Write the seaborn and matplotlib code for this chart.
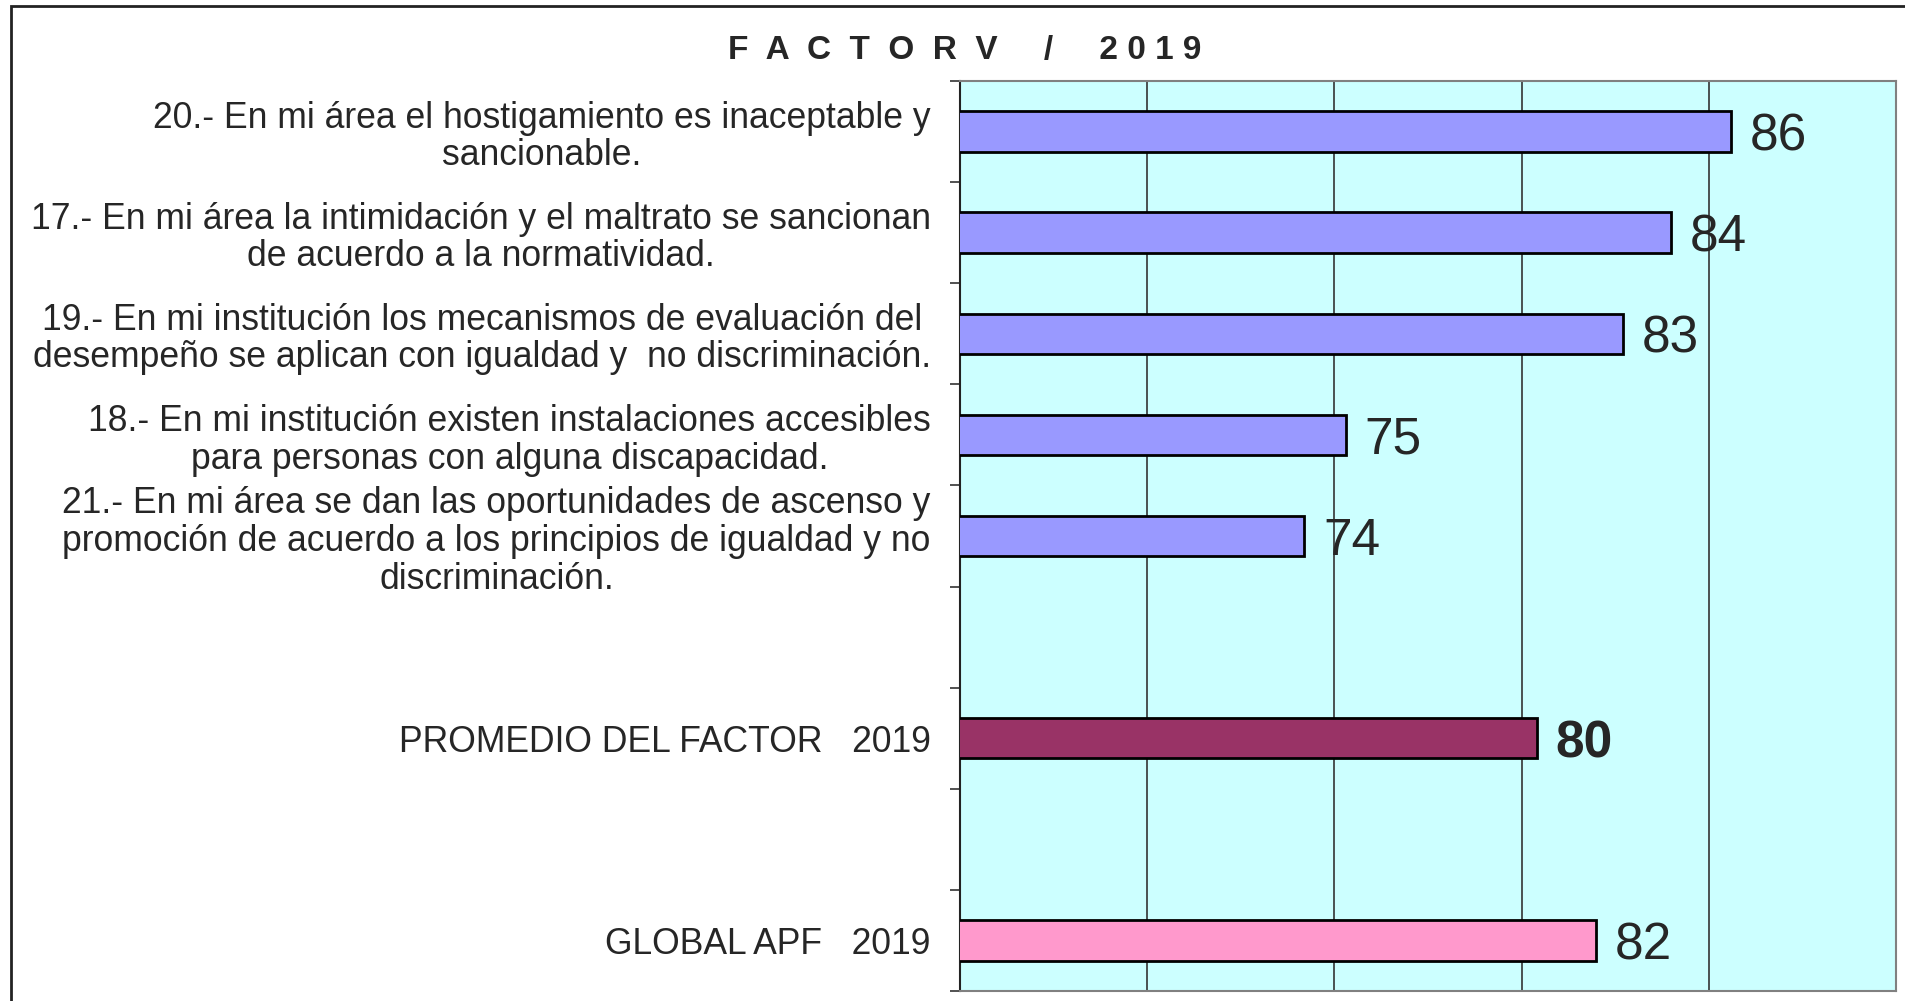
import matplotlib
matplotlib.use("Agg")
import matplotlib.pyplot as plt
from matplotlib.patches import Rectangle
import numpy as np
import pandas as pd
import seaborn as sns

# Data (axis runs 65-90, labels are the rounded values)
questions = [
    "20.- En mi área el hostigamiento es inaceptable y\nsancionable.",
    "17.- En mi área la intimidación y el maltrato se sancionan\nde acuerdo a la normatividad.",
    "19.- En mi institución los mecanismos de evaluación del\ndesempeño se aplican con igualdad y  no discriminación.",
    "18.- En mi institución existen instalaciones accesibles\npara personas con alguna discapacidad.",
    "21.- En mi área se dan las oportunidades de ascenso y\npromoción de acuerdo a los principios de igualdad y no\ndiscriminación.",
]
question_scores = [85.6, 84.0, 82.7, 75.3, 74.2]
promedio_label = "PROMEDIO DEL FACTOR   2019"
promedio_score = 80.4
global_label = "GLOBAL APF   2019"
global_score = 82.0

# slot order, with two blank rows like the original
order = questions + ["gap1", promedio_label, "gap2", global_label]
tick_labels = questions + ["", promedio_label, "", global_label]

df = pd.DataFrame({
    "item": questions + [promedio_label, global_label],
    "score": question_scores + [promedio_score, global_score],
})
palette = {q: "#9999FF" for q in questions}
palette[promedio_label] = "#993366"
palette[global_label] = "#FF99CC"

sns.set_style("white")
plt.rcParams["font.family"] = ["Liberation Sans", "DejaVu Sans"]

fig, ax = plt.subplots(figsize=(19.06, 10.01), dpi=100)
fig.subplots_adjust(left=960 / 1906, right=1896 / 1906, top=1 - 81 / 1001, bottom=1 - 991 / 1001)

sns.barplot(data=df, x="score", y="item", hue="item", order=order,
            hue_order=questions + [promedio_label, global_label],
            palette=palette, saturation=1, orient="h", width=0.4,
            edgecolor="black", linewidth=2, legend=False, ax=ax, zorder=3)

ax.set_facecolor("#CCFFFF")
ax.set_xlim(65, 90)
ax.set_ylim(len(order) - 0.5, -0.5)
ax.set_xticks([70, 75, 80, 85])
ax.set_xticklabels([])
ax.tick_params(axis="x", length=0)
ax.grid(axis="x", color="#333333", linewidth=1.2, zorder=0)
ax.set_xlabel("")
ax.set_ylabel("")

# category labels at centres, tick marks at the boundaries
ax.set_yticks(np.arange(len(order)))
ax.set_yticklabels(tick_labels, fontsize=25.6, ha="right", multialignment="center", linespacing=1.1)
ax.tick_params(axis="y", which="major", length=0, pad=21)
ax.set_yticks(np.arange(-0.5, len(order), 1), minor=True)
ax.tick_params(axis="y", which="minor", length=7, width=1.2, color="#333333", left=True)

for side in ["top", "right", "bottom"]:
    ax.spines[side].set_color("#808080")
    ax.spines[side].set_linewidth(1.5)
ax.spines["left"].set_color("#222222")
ax.spines["left"].set_linewidth(1.5)

# value labels
for cont in ax.containers:
    for bar in cont:
        w = bar.get_width()
        if np.isnan(w):
            continue
        bold = abs(w - promedio_score) < 1e-9
        ax.text(w + 0.5, bar.get_y() + bar.get_height() / 2, f"{w:.0f}",
                va="center_baseline", ha="left", fontsize=37,
                fontweight="bold" if bold else "normal", zorder=4)

fig.text(0.506, 1 - 51 / 1001, "F  A  C  T  O  R  V     /     2 0 1 9",
         ha="center", va="center", fontsize=24, fontweight="bold")

# outer chart border (only left and top fall inside the picture)
fig.patches.append(Rectangle((11 / 1906, -0.1), 2, 1.1 - 6 / 1001, transform=fig.transFigure,
                             fill=False, edgecolor="#222222", linewidth=2, clip_on=False))

plt.savefig("out.png", dpi=100)
plt.close()
